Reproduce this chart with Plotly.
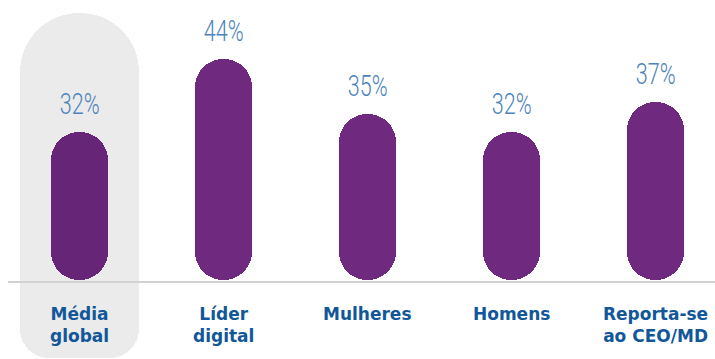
import plotly.graph_objects as go

# Share of respondents per group
categories = ["Média<br>global", "Líder<br>digital", "Mulheres", "Homens", "Reporta-se<br>ao CEO/MD"]
values = [32, 44, 35, 32, 37]
value_labels = ["32%", "44%", "35%", "32%", "37%"]

# Styling
PURPLE = "#6f2a80"
PURPLE_ON_GREY = "#672578"
PILL_GREY = "#ebebeb"
LABEL_BLUE = "#4d83bb"
CAT_BLUE = "#11579a"
BAR_WIDTH = 0.396
PILL_WIDTH = 0.82
BAR_FLOOR = 7.7       # value at which the rounded bars start
BASELINE = 7.35       # horizontal rule under the bars
PILL_TOP = 51.6
PILL_BOTTOM = -5.15

x_idx = list(range(len(categories)))
bar_colors = [PURPLE_ON_GREY] + [PURPLE] * (len(categories) - 1)

fig = go.Figure()

# Highlight pill behind the first category: wide rounded top, tighter rounded bottom
fig.add_trace(go.Bar(
    x=[0], y=[PILL_TOP - 12 - PILL_BOTTOM], base=[PILL_BOTTOM], width=PILL_WIDTH,
    marker=dict(color=PILL_GREY, cornerradius=29, line=dict(width=0)),
    hoverinfo="skip", showlegend=False,
))
fig.add_trace(go.Bar(
    x=[0], y=[PILL_TOP - 23], base=[23], width=PILL_WIDTH,
    marker=dict(color=PILL_GREY, cornerradius="50%", line=dict(width=0)),
    hoverinfo="skip", showlegend=False,
))

# Capsule bars running from the floor up to each value
fig.add_trace(go.Bar(
    x=x_idx, y=[v - BAR_FLOOR for v in values], base=[BAR_FLOOR] * len(values), width=BAR_WIDTH,
    marker=dict(color=bar_colors, cornerradius="50%", line=dict(width=0)),
    hoverinfo="skip", showlegend=False,
))

# Baseline rule
fig.add_shape(type="line", xref="paper", yref="y", x0=8 / 715, x1=1, y0=BASELINE, y1=BASELINE,
              line=dict(color="#d2d2d2", width=2), layer="above")

annotations = []
for i, (v, lab) in enumerate(zip(values, value_labels)):
    annotations.append(dict(
        x=i, y=v, xref="x", yref="y", text=lab, showarrow=False,
        yanchor="bottom", yshift=9,
        font=dict(family="Roboto", size=30, color=LABEL_BLUE, weight=300),
    ))
for i, cat in enumerate(categories):
    annotations.append(dict(
        x=i, y=1 - 302 / 359, xref="x", yref="paper", text=cat, showarrow=False,
        yanchor="top", align="center",
        font=dict(family="DejaVu Sans", size=17, color=CAT_BLUE, weight="bold"),
    ))

fig.update_layout(
    width=715, height=359,
    margin=dict(l=0, r=0, t=0, b=0),
    paper_bgcolor="white", plot_bgcolor="white",
    barmode="overlay", bargap=0,
    xaxis=dict(visible=False, range=[-0.552, 4.413], fixedrange=True),
    yaxis=dict(visible=False, range=[-5.31, 53.73], fixedrange=True),
    annotations=annotations,
    showlegend=False,
)

# Percentage labels are set in a condensed cut: narrow them around their centres
condense_js = """
(function () {
  var gd = document.getElementById('{plot_id}');
  function condense() {
    gd.querySelectorAll('text.annotation-text').forEach(function (t) {
      if (/%$/.test(t.textContent)) {
        t.style.transformBox = 'fill-box';
        t.style.transformOrigin = 'center';
        t.style.transform = 'scaleX(0.72)';
      }
    });
  }
  condense();
  gd.on('plotly_afterplot', condense);
})();
"""

fig.write_html("out.html", post_script=condense_js)
